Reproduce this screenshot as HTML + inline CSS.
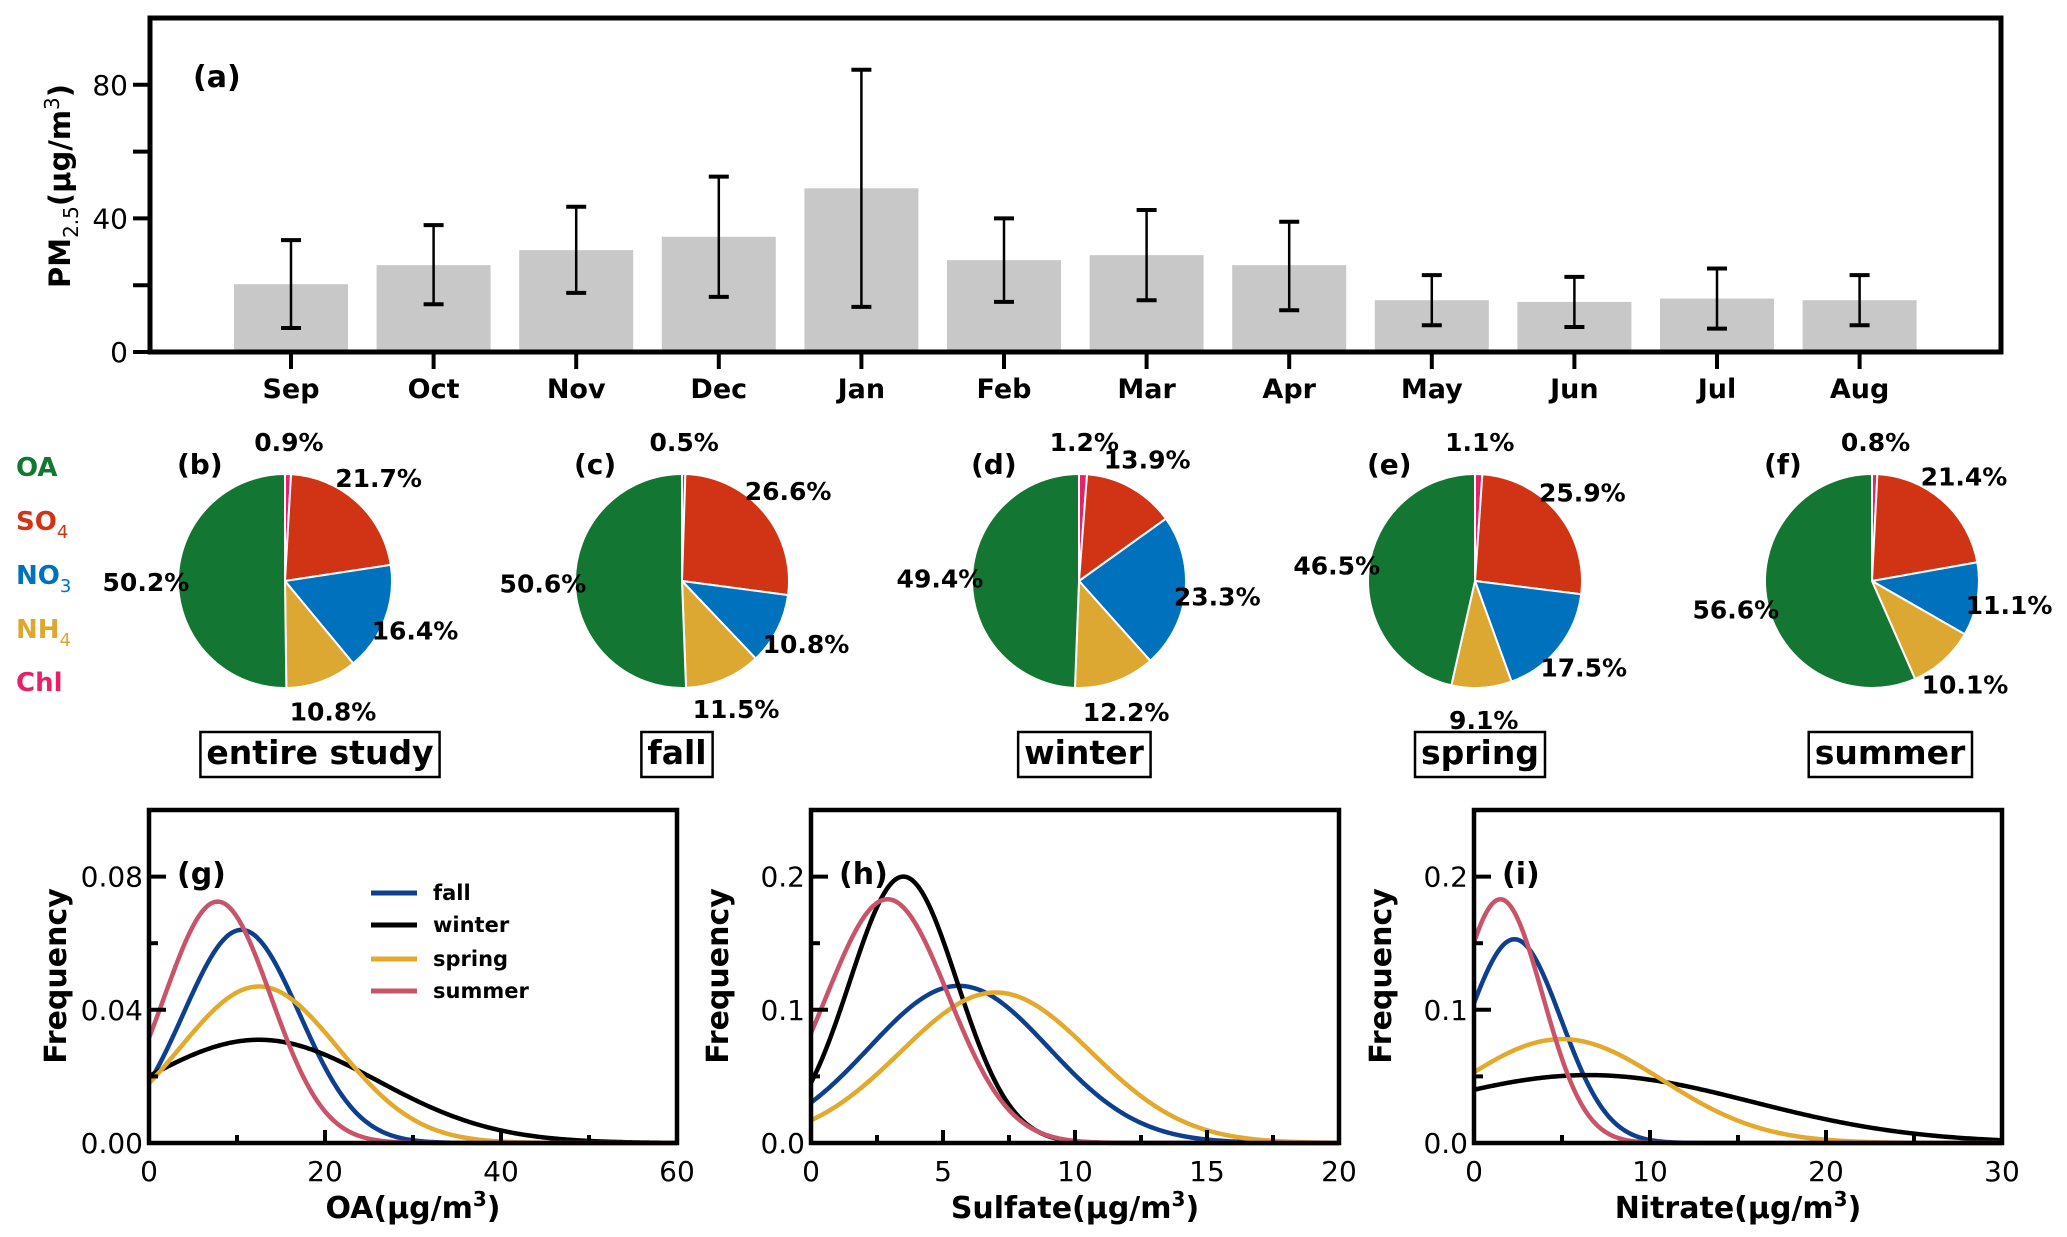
<!DOCTYPE html>
<html><head><meta charset="utf-8">
<style>
html,body{margin:0;padding:0;background:#fff;}
svg{display:block;font-family:"DejaVu Sans","Liberation Sans",sans-serif;}
</style></head>
<body>
<svg id="fig" width="2067" height="1237" viewBox="0 0 2067 1237" xmlns="http://www.w3.org/2000/svg"></svg>
<script>
const months = ["Sep","Oct","Nov","Dec","Jan","Feb","Mar","Apr","May","Jun","Jul","Aug"];
const pmMean = [20.3,26,30.5,34.5,49,27.5,29,26,15.5,15,16,15.5];
const pmUpper = [33.5,38,43.5,52.5,84.5,40,42.5,39,23,22.5,25,23];
const pmLower = [7.2,14.3,17.7,16.5,13.5,15,15.5,12.5,8,7.5,7,8];
const pmTicks = [0,40,80];

const species = ["Chl","SO4","NO3","NH4","OA"];
const speciesColors = ["#e8206a","#d03414","#0072bd","#dda832","#137633"];
const pieTitles = ["entire study","fall","winter","spring","summer"];
const pieLetters = ["(b)","(c)","(d)","(e)","(f)"];
const pieEntire = [0.9,21.7,16.4,10.8,50.2];
const pieFall = [0.5,26.6,10.8,11.5,50.6];
const pieWinter = [1.2,13.9,23.3,12.2,49.4];
const pieSpring = [1.1,25.9,17.5,9.1,46.5];
const pieSummer = [0.8,21.4,11.1,10.1,56.6];

const seasons = ["fall","winter","spring","summer"];
const seasonColors = ["#0d3f8f","#000000","#e3a92b","#c9546a"];
// Gaussian fit parameters: peak height, mean, sd
const oaPeak = [0.064,0.031,0.047,0.0725];
const oaMean = [10.5,12.5,12.5,7.8];
const oaSd = [6.6,13.4,9.0,6.05];
const so4Peak = [0.118,0.2,0.113,0.183];
const so4Mean = [5.6,3.5,7.0,2.9];
const so4Sd = [3.4,2.03,3.6,2.3];
const no3Peak = [0.153,0.051,0.078,0.183];
const no3Mean = [2.3,6.5,5.0,1.5];
const no3Sd = [2.65,9.3,5.7,2.4];

const NS="http://www.w3.org/2000/svg";
const svg=document.getElementById('fig');
function el(tag,attrs,parent){const e=document.createElementNS(NS,tag);for(const k in attrs)e.setAttribute(k,attrs[k]);(parent||svg).appendChild(e);return e;}
function txt(s,attrs,parent){const e=el('text',attrs,parent);e.textContent=s;return e;}

// ---------- Panel (a)
const A={l:150,r:2001,t:18,b:352,ymax:100};
const ay=v=>A.b-(v/A.ymax)*(A.b-A.t);
const ax=i=>291+i*142.6;
const ga=el('g',{});

months.forEach((m,i)=>{
  const r=el('rect',{x:ax(i)-57,y:ay(pmMean[i]),width:114,height:A.b-ay(pmMean[i]),fill:'#c8c8c8'},ga);
  
  
  const e=el('g',{stroke:'#000','stroke-width':2.5},ga);
  
  
  el('line',{x1:ax(i),x2:ax(i),y1:ay(pmUpper[i]),y2:ay(pmLower[i])},e);
  el('line',{x1:ax(i)-10,x2:ax(i)+10,y1:ay(pmUpper[i]),y2:ay(pmUpper[i]),'stroke-width':4},e);
  el('line',{x1:ax(i)-10,x2:ax(i)+10,y1:ay(pmLower[i]),y2:ay(pmLower[i]),'stroke-width':4},e);
  el('line',{x1:ax(i),x2:ax(i),y1:A.b,y2:A.b+17,stroke:'#000','stroke-width':4},ga);
  const t=txt(m,{x:ax(i),y:A.b+46,'font-size':27,'font-weight':'bold','text-anchor':'middle'},ga);
  
});
const fa=el('rect',{x:A.l,y:A.t,width:A.r-A.l,height:A.b-A.t,fill:'none',stroke:'#000','stroke-width':5},ga);

[0,20,40,60,80].forEach(v=>{
  el('line',{x1:A.l-17,x2:A.l,y1:ay(v),y2:ay(v),stroke:'#000','stroke-width':4},ga);
});
pmTicks.forEach(v=>{
  const t=txt(String(v),{x:A.l-22,y:ay(v)+10,'font-size':28,'text-anchor':'end'},ga);
  
});
const yl=el('text',{transform:'translate(70,186) rotate(-90)','font-size':29,'font-weight':'bold','text-anchor':'middle'},ga);

yl.innerHTML='PM<tspan font-size="20" dy="8" font-weight="normal">2.5</tspan><tspan dy="-8">(μg/m</tspan><tspan font-size="20" dy="-11" font-weight="normal">3</tspan><tspan dy="11">)</tspan>';
const la=txt('(a)',{x:193,y:87,'font-size':30,'font-weight':'bold'},ga);


// ---------- legend for pies
const legY=[466,520,574,628,681];
const legLabels=[['OA',''],['SO','4'],['NO','3'],['NH','4'],['Chl','']];
const legCols=["#137633","#d03414","#0072bd","#dda832","#e8206a"];
legLabels.forEach((l,i)=>{
  const t=el('text',{x:16,y:legY[i]+10,'font-size':26,'font-weight':'bold',fill:legCols[i]});
  
  
  t.innerHTML=l[0]+(l[1]?'<tspan font-size="18" font-weight="normal" dy="8">'+l[1]+'</tspan>':'');
});

// ---------- pies
const pieData=[pieEntire,pieFall,pieWinter,pieSpring,pieSummer];
const pieCx=[285,682,1079,1475,1872];
const pieCy=581, R=107;
const boxCx=[320,677,1084,1480,1890];
pieData.forEach((vals,p)=>{
  const g=el('g',{});
  
  
  const tot=vals.reduce((a,b)=>a+b,0);
  let acc=0;
  vals.forEach((v,k)=>{
    const a0=acc/tot*2*Math.PI, a1=(acc+v)/tot*2*Math.PI; acc+=v;
    const cx=pieCx[p];
    const x0=cx+R*Math.sin(a0), y0=pieCy-R*Math.cos(a0);
    const x1=cx+R*Math.sin(a1), y1=pieCy-R*Math.cos(a1);
    const large=(a1-a0)>Math.PI?1:0;
    const s=el('path',{d:`M${cx},${pieCy} L${x0},${y0} A${R},${R} 0 ${large} 1 ${x1},${y1} Z`,fill:speciesColors[k],stroke:'#fff','stroke-width':2},g);
    
    
    const am=(a0+a1)/2;
    const t=txt(v.toFixed(1)+'%',{x:cx+1.3*R*Math.sin(am),y:pieCy-1.3*R*Math.cos(am)+9,'font-size':25,'font-weight':'bold','text-anchor':'middle'},g);
    
    
  });
  const lt=txt(pieLetters[p],{x:pieCx[p]-108,y:474,'font-size':28,'font-weight':'bold'},g);
  
  const tt=txt(pieTitles[p],{x:boxCx[p],y:764,'font-size':33,'font-weight':'bold','text-anchor':'middle'},g);
  
  const bb=tt.getBBox();
  const bx=el('rect',{x:bb.x-6,y:732,width:bb.width+12,height:45,fill:'none',stroke:'#000','stroke-width':2.5},g);
  
});

// ---------- distribution panels
const panels=[
  {l:149,xmax:60,xt:[0,20,40,60],xm:[10,30,50],ymax:0.1,yt:[0,0.04,0.08],ym:[0.02,0.06],ylab:['0.00','0.04','0.08'],peak:oaPeak,mean:oaMean,sd:oaSd,xl:'OA',letter:'(g)',name:'oa'},
  {l:811,xmax:20,xt:[0,5,10,15,20],xm:[2.5,7.5,12.5,17.5],ymax:0.25,yt:[0,0.1,0.2],ym:[0.05,0.15],ylab:['0.0','0.1','0.2'],peak:so4Peak,mean:so4Mean,sd:so4Sd,xl:'Sulfate',letter:'(h)',name:'sulfate'},
  {l:1474,xmax:30,xt:[0,10,20,30],xm:[5,15,25],ymax:0.25,yt:[0,0.1,0.2],ym:[0.05,0.15],ylab:['0.0','0.1','0.2'],peak:no3Peak,mean:no3Mean,sd:no3Sd,xl:'Nitrate',letter:'(i)',name:'nitrate'}
];
const PT=810,PB=1143,PW=528;
panels.forEach(P=>{
  const g=el('g',{});
  
  
  const X=v=>P.l+v/P.xmax*PW, Y=v=>PB-v/P.ymax*(PB-PT);
  el('rect',{x:P.l,y:PT,width:PW,height:PB-PT,fill:'#fff'},g);
  const cg=el('g',{},g);
  for(let s=0;s<4;s++){
    let d='';
    for(let i=0;i<=300;i++){
      const xv=P.xmax*i/300;
      const yv=P.peak[s]*Math.exp(-Math.pow(xv-P.mean[s],2)/(2*P.sd[s]*P.sd[s]));
      d+=(i?'L':'M')+X(xv).toFixed(2)+','+Y(yv).toFixed(2);
    }
    const c=el('path',{d:d,fill:'none',stroke:seasonColors[s],'stroke-width':4.5},cg);
    
    
  }
  const fr=el('rect',{x:P.l,y:PT,width:PW,height:PB-PT,fill:'none',stroke:'#000','stroke-width':4.5},g);
  
  P.xt.forEach(v=>{
    el('line',{x1:X(v),x2:X(v),y1:PB,y2:PB-13,stroke:'#000','stroke-width':4},g);
    const t=txt(String(v),{x:X(v),y:PB+38,'font-size':28,'text-anchor':'middle'},g);
    
  });
  P.xm.forEach(v=>el('line',{x1:X(v),x2:X(v),y1:PB,y2:PB-8,stroke:'#000','stroke-width':4},g));
  P.yt.forEach((v,i)=>{
    el('line',{x1:P.l,x2:P.l+17,y1:Y(v),y2:Y(v),stroke:'#000','stroke-width':4},g);
    const t=txt(P.ylab[i],{x:P.l-6,y:Y(v)+10,'font-size':28,'text-anchor':'end'},g);
    
  });
  P.ym.forEach(v=>el('line',{x1:P.l,x2:P.l+9,y1:Y(v),y2:Y(v),stroke:'#000','stroke-width':4},g));
  const yt=txt('Frequency',{transform:`translate(${P.l-83},976) rotate(-90)`,'font-size':30,'font-weight':'bold','text-anchor':'middle'},g);
  
  const xt=el('text',{x:P.l+PW/2,y:1218,'font-size':30,'font-weight':'bold','text-anchor':'middle'},g);
  
  xt.innerHTML=P.xl+'(μg/m<tspan font-size="20" dy="-12">3</tspan><tspan dy="12">)</tspan>';
  const lt=txt(P.letter,{x:P.l+28,y:884,'font-size':30,'font-weight':'bold'},g);
  
});

// season legend in (g)
const lgY=[893,925,959,991];
const lg=el('g',{});


seasons.forEach((s,i)=>{
  const e=el('g',{},lg);
  
  
  el('line',{x1:371,x2:417,y1:lgY[i],y2:lgY[i],stroke:seasonColors[i],'stroke-width':5},e);
  txt(s,{x:433,y:lgY[i]+7,'font-size':21,'font-weight':'bold'},e);
});
</script>
</body></html>
